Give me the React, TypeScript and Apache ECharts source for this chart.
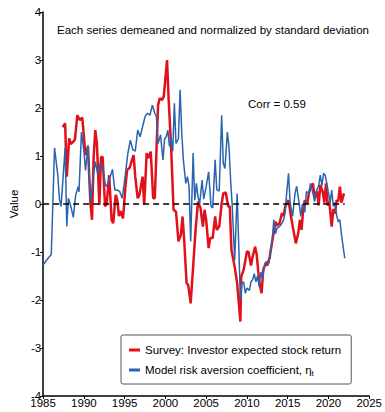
import React, { useEffect, useRef } from "react";
import * as echarts from "echarts";

const surveyYears = [1987.4, 1987.7, 1987.9, 1988.2, 1988.4, 1988.7, 1988.9, 1989.2, 1989.5, 1989.8, 1989.9, 1990.2, 1990.5, 1990.8, 1991.0, 1991.2, 1991.4, 1991.6, 1991.9, 1992.1, 1992.3, 1992.6, 1992.8, 1993.1, 1993.4, 1993.6, 1993.9, 1994.1, 1994.3, 1994.5, 1994.8, 1995.1, 1995.3, 1995.6, 1995.9, 1996.1, 1996.3, 1996.6, 1996.8, 1997.2, 1997.4, 1997.7, 1997.9, 1998.2, 1998.5, 1998.7, 1999.1, 1999.3, 1999.6, 1999.8, 2000.2, 2000.4, 2000.7, 2001.0, 2001.3, 2001.6, 2001.9, 2002.1, 2002.3, 2002.6, 2002.8, 2003.1, 2003.4, 2003.7, 2004.0, 2004.3, 2004.6, 2004.8, 2005.0, 2005.3, 2005.5, 2005.8, 2006.1, 2006.3, 2006.6, 2006.9, 2007.1, 2007.4, 2007.7, 2007.9, 2008.1, 2008.5, 2008.8, 2009.2, 2009.3, 2009.6, 2010.0, 2010.2, 2010.5, 2010.7, 2011.0, 2011.2, 2011.5, 2011.8, 2012.0, 2012.3, 2012.5, 2012.8, 2013.1, 2013.5, 2013.7, 2014.0, 2014.3, 2014.5, 2014.7, 2015.1, 2015.4, 2015.7, 2016.0, 2016.3, 2016.5, 2016.7, 2016.9, 2017.1, 2017.4, 2017.6, 2017.8, 2018.1, 2018.3, 2018.6, 2018.8, 2019.0, 2019.3, 2019.5, 2019.7, 2019.9, 2020.1, 2020.4, 2020.6, 2020.8, 2021.0, 2021.2, 2021.4, 2021.6, 2021.9];
const surveyValues = [1.6, 1.68, 0.57, 1.37, 1.25, 1.3, 1.34, 1.85, 1.75, 1.8, 1.61, 1.02, 1.19, 0.02, -0.33, 0.99, 1.54, 1.25, -0.02, 0.98, 0.98, -0.05, 0.0, 0.6, -0.33, -0.4, 0.19, 0.08, -0.25, -0.15, -0.3, 0.36, 0.71, 0.75, 0.92, 1.02, 0.57, 0.12, 0.18, 0.57, -0.02, 1.06, 0.96, 1.09, 0.12, 0.12, 2.06, 2.2, 2.17, 2.24, 3.0, 2.17, 1.19, -0.12, -0.16, -0.78, -0.64, -0.26, -0.74, -1.65, -1.69, -2.07, -1.31, -0.54, 0.05, -0.08, -0.47, -0.12, -0.33, -0.92, -0.71, -0.71, -0.26, -0.54, -0.47, 0.01, 0.22, 0.24, -0.05, -0.05, -0.96, -1.31, -1.65, -2.45, -1.51, -1.37, -0.99, -1.0, -1.28, -1.1, -0.89, -1.05, -1.62, -1.86, -1.37, -1.24, -1.28, -1.1, -0.78, -0.37, -0.45, -0.4, -0.19, -0.25, -0.05, 0.08, -0.26, -0.54, -0.82, -0.6, -0.33, -0.54, -0.12, 0.08, 0.01, 0.22, 0.33, 0.43, 0.12, 0.26, -0.03, 0.4, 0.25, 0.03, 0.43, -0.03, 0.05, -0.47, -0.1, -0.2, 0.08, 0.05, 0.36, 0.03, 0.22];

const modelYears = [1985.0, 1985.5, 1986.0, 1986.4, 1986.8, 1987.0, 1987.2, 1987.7, 1987.9, 1988.1, 1988.4, 1988.7, 1989.0, 1989.3, 1989.4, 1989.7, 1990.0, 1990.2, 1990.5, 1990.8, 1991.2, 1991.4, 1991.7, 1992.0, 1992.3, 1992.6, 1992.8, 1993.1, 1993.5, 1993.8, 1994.1, 1994.4, 1994.7, 1995.0, 1995.4, 1995.7, 1996.0, 1996.3, 1996.6, 1996.9, 1997.2, 1997.5, 1997.8, 1998.1, 1998.4, 1998.7, 1998.9, 1999.1, 1999.4, 1999.7, 1999.9, 2000.1, 2000.3, 2000.5, 2000.7, 2000.9, 2001.1, 2001.3, 2001.6, 2001.8, 2002.0, 2002.2, 2002.5, 2002.7, 2002.9, 2003.1, 2003.4, 2003.6, 2003.8, 2004.0, 2004.2, 2004.5, 2004.7, 2005.0, 2005.3, 2005.6, 2005.8, 2006.1, 2006.3, 2006.6, 2006.9, 2007.1, 2007.3, 2007.6, 2007.8, 2008.0, 2008.2, 2008.5, 2008.8, 2009.0, 2009.2, 2009.4, 2009.6, 2009.8, 2010.0, 2010.3, 2010.5, 2010.7, 2010.9, 2011.1, 2011.3, 2011.5, 2011.7, 2011.9, 2012.2, 2012.4, 2012.7, 2012.9, 2013.1, 2013.3, 2013.5, 2013.7, 2014.0, 2014.3, 2014.5, 2014.7, 2014.8, 2015.1, 2015.3, 2015.6, 2015.9, 2016.1, 2016.4, 2016.6, 2016.8, 2017.1, 2017.3, 2017.6, 2017.8, 2018.1, 2018.3, 2018.5, 2018.8, 2019.0, 2019.2, 2019.4, 2019.6, 2019.8, 2020.2, 2020.4, 2020.6, 2020.8, 2021.0, 2021.2, 2021.4, 2021.6, 2021.8, 2022.0];
const modelValues = [-1.27, -1.15, -1.05, 1.17, 0.6, 0.1, -0.05, 1.17, -0.47, 0.12, -0.05, -0.28, 0.19, 0.36, 0.25, 1.5, 1.1, 0.7, 1.23, 0.02, 0.64, 0.88, 0.62, 0.85, 0.78, 0.43, 0.36, 0.5, 0.72, 0.29, 0.29, 0.26, 0.12, 0.5, 1.06, 1.33, 1.13, 1.1, 1.54, 1.4, 1.61, 1.82, 1.89, 1.85, 2.06, 1.89, 1.82, 1.26, 1.44, 0.92, 1.36, 1.4, 1.54, 1.2, 1.36, 1.1, 2.1, 1.26, 1.36, 2.38, 1.5, 0.92, 0.43, 0.57, 0.36, -0.78, 1.06, 0.08, 0.43, 0.15, 0.0, 0.5, 0.1, 0.36, 0.67, -0.05, -0.08, 0.92, 0.3, 0.27, 1.85, 0.85, 0.74, 1.5, 1.19, 0.5, -0.05, -1.17, 0.22, -0.89, -2.0, -1.65, -1.62, -1.86, -1.75, -1.8, -1.62, -1.58, -1.45, -1.62, -1.5, -1.72, -1.42, -1.55, -1.24, -1.2, -1.24, -0.96, -0.75, -0.33, -0.62, -0.5, -0.47, -0.4, -0.33, -0.16, 0.08, 0.64, 0.03, -0.26, 0.22, 0.37, 0.03, -0.26, 0.0, -0.17, 0.26, 0.22, 0.43, 0.22, 0.05, 0.26, 0.38, 0.6, 0.38, 0.64, 0.6, 0.43, 0.03, 0.29, -0.05, 0.03, -0.23, -0.37, -0.33, -0.64, -0.89, -1.13];

const zeroLineYears = [1985, 2022];
const zeroLineValues = [0, 0];

const xTicks = { min: 1985, max: 2025, step: 5 };
const yTicks = { min: -4, max: 4, step: 1 };

const surveyName = "Survey: Investor expected stock return";
const modelName = "Model risk aversion coefficient, η";
const titleText = "Each series demeaned and normalized by standard deviation";
const corrText = "Corr = 0.59";

const FONT = "'Liberation Sans', Arial, sans-serif";
const FS = 11.5;

function pairs(xs: number[], ys: number[]) {
  return xs.map((x, i) => [x, ys[i]]);
}

export default function App() {
  const ref = useRef<HTMLDivElement>(null);
  useEffect(() => {
    if (!ref.current) return;
    const chart = echarts.init(ref.current, undefined, { renderer: "svg" });
    chart.setOption({
      animation: false,
      backgroundColor: "#ffffff",
      textStyle: { fontFamily: FONT },
      title: {
        text: titleText,
        left: 57,
        top: 24,
        padding: 0,
        textStyle: { fontSize: FS, fontWeight: "normal", color: "#000", fontFamily: FONT },
      },
      graphic: [
        {
          type: "text",
          left: 248,
          top: 98,
          style: { text: corrText, fontSize: FS, fill: "#000", fontFamily: FONT },
        },
      ],
      grid: { left: 37, right: 14, top: 12, bottom: 16, containLabel: false },
      legend: {
        data: [surveyName, modelName],
        orient: "vertical",
        left: 121,
        top: 335,
        width: 232,
        padding: [9, 10, 7, 8],
        itemGap: 8,
        itemWidth: 11,
        itemHeight: 3,
        icon: "rect",
        backgroundColor: "#fff",
        borderColor: "#555",
        borderWidth: 1,
        borderRadius: 2,
        formatter: (name: string) =>
          name === modelName ? "{a|" + name + "}{s|t}" : "{a|" + name + "}",
        textStyle: {
          fontSize: FS,
          color: "#000",
          fontFamily: FONT,
          rich: {
            a: { fontSize: FS, color: "#000", fontFamily: FONT },
            s: { fontSize: 8, color: "#000", fontFamily: FONT, verticalAlign: "bottom", padding: [6, 0, 0, 0] },
          },
        },
      },
      xAxis: {
        type: "value",
        min: xTicks.min,
        max: xTicks.max,
        interval: xTicks.step,
        splitLine: { show: false },
        axisLine: { show: true, onZero: false, lineStyle: { color: "#000", width: 1.5 } },
        axisTick: { show: true, length: 3, lineStyle: { color: "#000" } },
        axisLabel: { fontSize: FS, color: "#000", margin: 1, fontFamily: FONT, formatter: (v: number) => String(v) },
      },
      yAxis: {
        type: "value",
        min: yTicks.min,
        max: yTicks.max,
        interval: yTicks.step,
        name: "Value",
        nameLocation: "middle",
        nameGap: 20,
        nameRotate: 90,
        nameTextStyle: { fontSize: FS, color: "#000", fontFamily: FONT },
        splitLine: { show: false },
        axisLine: { show: true, lineStyle: { color: "#000", width: 1.5 } },
        axisTick: { show: true, length: 3, lineStyle: { color: "#000" } },
        axisLabel: { fontSize: FS, color: "#000", margin: 2, fontFamily: FONT },
      },
      series: [
        {
          name: surveyName,
          type: "line",
          data: pairs(surveyYears, surveyValues),
          showSymbol: false,
          symbol: "none",
          color: "#e2101a",
          lineStyle: { color: "#e2101a", width: 2.5 },
          z: 2,
        },
        {
          name: modelName,
          type: "line",
          data: pairs(modelYears, modelValues),
          showSymbol: false,
          symbol: "none",
          color: "#2a64ad",
          lineStyle: { color: "#2a64ad", width: 1.5 },
          z: 3,
        },
        {
          name: "zero",
          type: "line",
          data: pairs(zeroLineYears, zeroLineValues),
          showSymbol: false,
          symbol: "none",
          lineStyle: { color: "#000", width: 1.3, type: [6, 4] },
          z: 4,
        },
      ],
    });
    return () => chart.dispose();
  }, []);
  return <div ref={ref} style={{ width: 385, height: 412, position: "absolute", left: 0, top: 0 }} />;
}
